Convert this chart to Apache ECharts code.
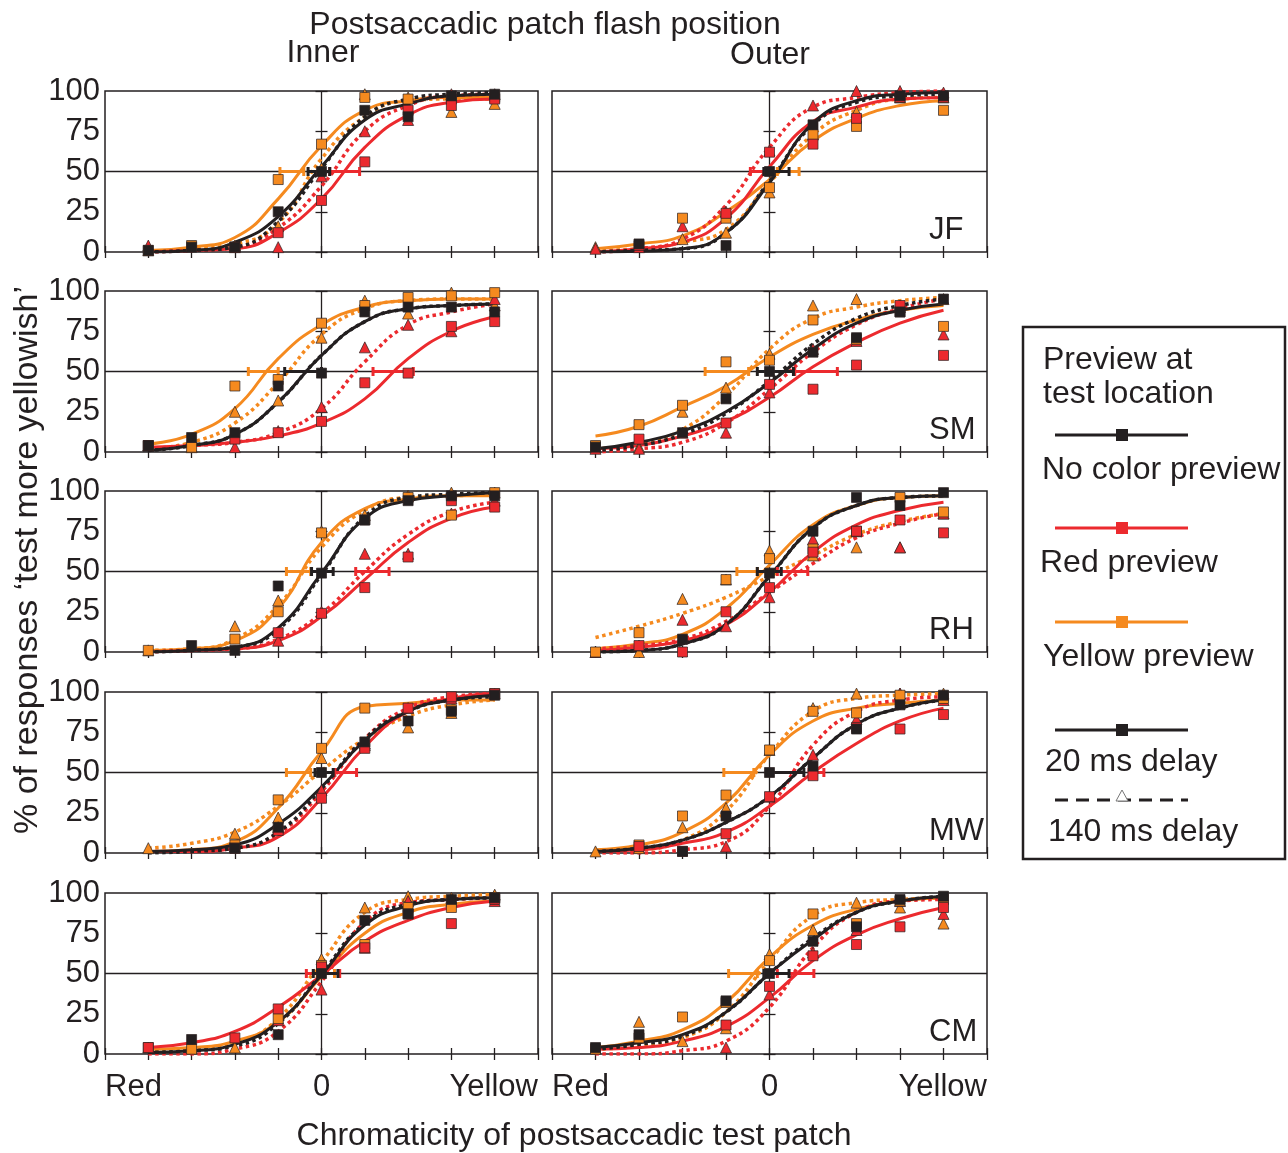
<!DOCTYPE html>
<html>
<head>
<meta charset="utf-8">
<script src="https://cdn.jsdelivr.net/npm/echarts@6/dist/echarts.min.js"></script>
<style>
html, body { margin: 0; padding: 0; background: #fff; }
#chart { width: 1288px; height: 1153px; }
</style>
</head>
<body>
<div id="chart"></div>
<script>
// test chromaticity levels (Red ... 0 ... Yellow)
const levels = [-4, -3, -2, -1, 0, 1, 2, 3, 4];
const subjects = ['JF', 'SM', 'RH', 'MW', 'CM'];
const sides = ['Inner', 'Outer'];

// panel order: JF in, JF out, SM in, SM out, RH in, RH out, MW in, MW out, CM in, CM out
// fitted curves, % yellowish read at each level
const fitNone20 = [
  [0, 1, 6, 22, 53, 82, 92, 97, 98],
  [0, 0.5, 2, 12, 43, 80, 94, 98, 99],
  [1, 4, 11, 31, 60, 81, 89, 91, 92],
  [2, 6, 13, 25, 43, 64, 80, 88, 92],
  [0, 1, 3, 15, 49, 83, 94, 97, 99],
  [0, 1, 5, 17, 47, 77, 91, 96, 97],
  [1, 2, 5, 18, 41, 70, 88, 95, 98],
  [1, 3, 8, 19, 35, 59, 80, 90, 95],
  [1, 2, 6, 20, 49, 80, 92, 96, 97],
  [4, 7, 12, 26, 50, 71, 88, 95, 98]
];
const fitNone140 = [
  [0, 1, 3, 19, 52, 84, 95, 98, 99],
  [0, 1, 2, 12, 44, 79, 93, 97, 98],
  [1, 4, 11, 31, 60, 81, 89, 91, 92],
  [1, 4, 11, 24, 44, 67, 83, 91, 95],
  [0, 1, 3, 14, 48, 84, 96, 98, 99],
  [0, 1, 5, 17, 47, 77, 91, 96, 97],
  [0, 1, 3, 13, 40, 71, 88, 95, 97],
  [1, 3, 8, 19, 35, 59, 80, 90, 95],
  [1, 2, 5, 19, 50, 81, 93, 96, 97],
  [3, 6, 11, 26, 50, 72, 88, 95, 98]
];
const fitRed20 = [
  [0, 1, 2, 12, 33, 65, 85, 93, 95],
  [0, 2, 6, 21, 53, 81, 90, 95, 96],
  [3, 4, 6, 10, 18, 33, 58, 75, 84],
  [2, 4, 10, 19, 34, 53, 68, 80, 88],
  [0, 1, 2, 7, 22, 45, 68, 83, 90],
  [1, 3, 7, 17, 37, 62, 79, 88, 93],
  [1, 1, 3, 10, 34, 66, 88, 96, 99],
  [1, 2, 6, 13, 29, 50, 68, 82, 90],
  [4, 7, 14, 29, 49, 70, 83, 91, 95],
  [3, 4, 8, 17, 35, 58, 74, 84, 91]
];
const fitRed140 = [
  [0, 1, 3, 15, 41, 75, 91, 97, 98],
  [0, 2, 8, 29, 65, 90, 96, 99, 100],
  [2, 4, 6, 12, 27, 56, 79, 87, 92],
  [0, 2, 6, 18, 39, 62, 79, 89, 95],
  [0, 1, 2, 8, 24, 50, 73, 87, 93],
  [2, 4, 8, 19, 37, 55, 71, 80, 86],
  [1, 1, 3, 12, 38, 71, 90, 97, 99],
  [0, 0, 2, 7, 29, 67, 88, 95, 97],
  [0, 0, 3, 14, 45, 82, 94, 96, 97],
  [0, 0, 2, 8, 29, 66, 88, 95, 96]
];
const fitYellow20 = [
  [1, 3, 9, 33, 66, 88, 94, 96, 96],
  [2, 5, 10, 25, 45, 69, 83, 91, 94],
  [5, 11, 27, 58, 79, 90, 94, 95, 95],
  [10, 16, 28, 41, 59, 73, 82, 88, 91],
  [1, 2, 7, 27, 68, 89, 95, 97, 97],
  [2, 5, 11, 27, 54, 79, 91, 96, 97],
  [1, 2, 7, 28, 63, 91, 93, 95, 95],
  [2, 5, 13, 31, 61, 82, 90, 93, 95],
  [3, 4, 8, 20, 48, 75, 88, 93, 95],
  [4, 8, 15, 32, 60, 80, 90, 95, 97]
];
const fitYellow140 = [
  [0, 2, 5, 18, 58, 84, 94, 95, 95],
  [1, 2, 6, 14, 43, 73, 88, 95, 96],
  [2, 6, 18, 43, 73, 89, 94, 95, 95],
  [2, 5, 14, 35, 64, 83, 90, 94, 96],
  [1, 2, 8, 29, 65, 88, 96, 97, 98],
  [9, 16, 24, 34, 47, 60, 73, 81, 86],
  [3, 6, 13, 29, 51, 71, 85, 92, 95],
  [1, 2, 8, 26, 61, 88, 96, 98, 99],
  [2, 3, 7, 22, 57, 88, 96, 98, 99],
  [3, 5, 10, 26, 58, 86, 94, 96, 97]
];

// measured points: squares = 20 ms delay, triangles = 140 ms delay (null = hidden)
const ptsNone20 = [
  [1, 3, 3, 25, 50, 88, 84, 97, 98],
  [null, 5, null, 4, 50, 79, null, 97, 97],
  [4, 9, 12, 41, 49, 87, 90, 90, 87],
  [3, null, 12, 33, 50, 62, 71, 87, 95],
  [null, 4, 1, 41, 49, 82, 94, 97, 97],
  [null, null, 8, null, 49, 75, 96, 91, 99],
  [null, null, 3, 16, 50, 69, 82, 88, 98],
  [null, null, 1, 23, 50, 54, 77, 92, 98],
  [null, 9, null, 12, 50, 83, 87, 96, 97],
  [4, 12, null, 33, 50, 70, 79, 96, 98]
];
const ptsRed20 = [
  [null, null, 3, 12, 32, 56, 88, 91, 95],
  [null, 4, null, 24, 62, 67, 83, 96, 96],
  [4, null, 8, 12, 19, 43, 49, 78, 81],
  [null, 8, null, 18, 42, 39, 54, 91, 60],
  [null, null, null, 12, 24, 40, 59, 94, 90],
  [null, 4, 0, 25, 40, 62, 75, 82, 74],
  [null, null, 3, 14, 34, 65, 90, 97, 99],
  [null, 4, 1, 12, 35, 48, 78, 77, 86],
  [4, null, 10, 28, 54, 66, 87, 81, 96],
  [null, null, null, 18, 42, 61, 68, 79, 91]
];
const ptsRed140 = [
  [4, null, 3, 3, 47, 75, 82, 98, 98],
  [2, 3, 16, 25, 63, 91, 100, 100, 99],
  [4, 8, 3, 13, 28, 65, 79, 75, 95],
  [2, 2, 12, 12, 37, 64, 69, 91, 73],
  [null, null, null, 7, 25, 61, 61, 86, 94],
  [0, 4, 20, 16, 34, 70, 75, 65, 86],
  [null, null, 4, 16, 39, 68, 90, 96, 99],
  [null, null, null, 4, 35, 61, 83, 99, 95],
  [null, null, null, 21, 40, 66, 95, 95, 95],
  [null, null, null, 4, 37, 63, 77, 95, 87]
];
const ptsYellow20 = [
  [1, 4, 3, 45, 67, 96, 95, 95, 96],
  [null, null, 21, 21, 40, 73, 78, 96, 88],
  [4, 3, 41, 45, 80, 91, 96, 97, 99],
  [4, 17, 29, 56, 57, 82, 70, 87, 78],
  [1, null, 8, 25, 74, 82, 96, 85, 99],
  [0, 12, null, 45, 58, 64, 75, 96, 87],
  [null, null, 5, 33, 65, 90, null, 89, 99],
  [null, 5, 23, 36, 64, 88, 87, 98, 96],
  [4, 3, null, 22, 55, 68, 91, 91, 97],
  [3, 10, 23, 32, 58, 87, 81, 95, 96]
];
const ptsYellow140 = [
  [1, null, 4, 16, 52, 98, 96, 87, 92],
  [3, null, 8, 12, 37, 73, 87, 96, 96],
  [4, 3, 25, 32, 71, 94, 86, 99, 91],
  [3, 3, 25, 40, 61, 91, 95, 90, 95],
  [1, null, 16, 32, 75, 85, 97, 99, 99],
  [0, 0, 33, 45, 63, 60, 65, 65, 86],
  [3, null, 12, 22, 59, 67, 78, 87, null],
  [1, 3, 16, 28, 64, 90, 99, 99, 99],
  [4, 4, 4, 22, 59, 91, 98, 97, 99],
  [null, 20, 8, 16, 62, 77, 94, 91, 81]
];

// horizontal error bars at 50 %: [low, high]
const errNone = [[-0.31, 0.19], [-0.13, 0.45], [-0.85, 0], [-0.28, 0.55], [-0.23, 0.27],
  [-0.28, 0.27], [-0.15, 0.27], [0, 0.79], [-0.19, 0.38], [-0.13, 0.45]];
const errRed = [[0.19, 0.88], [-0.44, 0.02], [1.19, 2.12], [0.58, 1.56], [0.79, 1.56],
  [0.18, 0.88], [0.31, 0.81], [0.91, 1.25], [-0.35, 0.42], [0.18, 1.02]];
const errYellow = [[-0.96, -0.41], [0.18, 0.68], [-1.69, -1.0], [-1.48, -0.48], [-0.81, -0.25],
  [-0.75, -0.28], [-0.81, -0.25], [-1.05, -0.36], [-0.1, 0.3], [-0.94, -0.28]];

const ink = '#231f20';
const red = '#ec2a2e';
const orange = '#f58a1f';
const font = '"Liberation Sans", Arial, Helvetica, sans-serif';

const colLeft = [105, 552];
const colWidth = [433, 435];
const rowTop = [91, 291, 491, 692, 893];
const rowHeight = 161;

const chart = echarts.init(document.getElementById('chart'), null, {renderer: 'canvas'});

function pairs (vals) {
  return levels.map((x, i) => [x, vals[i]]).filter(d => d[1] != null);
}

const grids = [];
const xAxes = [];
const yAxes = [];
const series = [];
const graphics = [];

const tick = {show: true, inside: true, length: 6, lineStyle: {color: ink, width: 1.3}};

for (let r = 0; r < 5; r++) {
  for (let c = 0; c < 2; c++) {
    const p = r * 2 + c;
    grids.push({
      left: colLeft[c], top: rowTop[r], width: colWidth[c], height: rowHeight,
      show: true, borderColor: ink, borderWidth: 1.5, backgroundColor: 'transparent',
      outerBoundsMode: 'none', containLabel: false
    });
    const lastRow = r === 4;
    xAxes.push({
      gridIndex: p, type: 'value', position: 'bottom', min: -5, max: 5, interval: 1,
      axisLine: {show: false}, axisTick: tick, splitLine: {show: false},
      axisLabel: {
        show: lastRow, margin: 18, color: ink, fontSize: 31, fontFamily: font,
        showMinLabel: true, showMaxLabel: true,
        alignMinLabel: 'left', alignMaxLabel: 'right',
        formatter: v => v === -5 ? 'Red' : v === 0 ? '0' : v === 5 ? 'Yellow' : ''
      }
    });
    xAxes.push({
      gridIndex: p, type: 'value', position: 'top', min: -5, max: 5, interval: 1,
      axisLine: {show: false}, axisTick: tick, splitLine: {show: false},
      axisLabel: {show: false}
    });
    yAxes.push({
      gridIndex: p, type: 'value', position: 'left', min: 0, max: 100, interval: 25,
      axisLine: {show: false}, axisTick: tick, splitLine: {show: false},
      axisLabel: {show: c === 0, margin: 5, color: ink, fontSize: 31, fontFamily: font}
    });
    yAxes.push({
      gridIndex: p, type: 'value', position: 'right', min: 0, max: 100, interval: 25,
      axisLine: {show: false}, axisTick: tick, splitLine: {show: false},
      axisLabel: {show: false}
    });

    const ax = {xAxisIndex: p * 2, yAxisIndex: p * 2};

    // reference lines at 0 and 50 %
    series.push(Object.assign({
      type: 'line', data: [[0, 50]], showSymbol: false, lineStyle: {width: 0}, silent: true, z: 1,
      markLine: {
        silent: true, symbol: ['none', 'none'], label: {show: false}, animation: false, z: 1,
        lineStyle: {color: ink, width: 1.3, type: 'solid'},
        data: [{xAxis: 0}, {yAxis: 50}]
      }
    }, ax));

    const fits = [
      [fitYellow20, orange, false], [fitYellow140, orange, true],
      [fitRed20, red, false], [fitRed140, red, true],
      [fitNone20, ink, false], [fitNone140, ink, true]
    ];
    fits.forEach(([arr, col, dotted]) => {
      series.push(Object.assign({
        type: 'line', data: pairs(arr[p]), smooth: 0.5,
        showSymbol: false, symbol: 'none', silent: true, z: 2,
        lineStyle: dotted
          ? {color: col, width: 3.5, type: [3.5, 3.5], cap: 'butt'}
          : {color: col, width: 3}
      }, ax));
    });

    // error bars, drawn as filled rects through the axis scale
    [[errYellow, orange], [errRed, red], [errNone, ink]].forEach(([arr, col]) => {
      series.push(Object.assign({
        type: 'custom', silent: true, z: 3,
        data: [[arr[p][0], arr[p][1], 50]],
        encode: {x: [0, 1], y: 2},
        renderItem: (params, api) => {
          const a = api.coord([api.value(0), api.value(2)]);
          const b = api.coord([api.value(1), api.value(2)]);
          const th = 3;
          const cap = 4.5;
          return {
            type: 'group',
            children: [
              {type: 'rect', shape: {x: a[0], y: a[1] - th / 2, width: b[0] - a[0], height: th}, style: {fill: col}},
              {type: 'rect', shape: {x: a[0] - th / 2, y: a[1] - cap, width: th, height: cap * 2}, style: {fill: col}},
              {type: 'rect', shape: {x: b[0] - th / 2, y: b[1] - cap, width: th, height: cap * 2}, style: {fill: col}}
            ]
          };
        }
      }, ax));
    });

    // measured points
    const pts = [
      [ptsYellow140, orange, 'triangle', 11], [ptsRed140, red, 'triangle', 11],
      [ptsYellow20, orange, 'rect', 10], [ptsRed20, red, 'rect', 10], [ptsNone20, ink, 'rect', 10]
    ];
    pts.forEach(([arr, col, sym, size]) => {
      series.push(Object.assign({
        type: 'scatter', data: pairs(arr[p]), symbol: sym, symbolSize: size, silent: true, z: 4,
        itemStyle: {color: col, opacity: 1, borderColor: 'rgba(45,35,35,0.8)', borderWidth: 0.9}
      }, ax));
    });

    if (c === 1) {
      graphics.push({
        type: 'text', left: 929, top: rowTop[r] + 124,
        style: {text: subjects[r], font: '31px ' + font, fill: ink}
      });
    }
  }
}

// titles
const txt = (text, x, y, align, size, extra) => Object.assign({
  type: 'text', x: x, y: y,
  style: {text: text, font: (size || 32) + 'px ' + font, fill: ink, textAlign: align || 'left', textVerticalAlign: 'middle'}
}, extra || {});

graphics.push(txt('Postsaccadic patch flash position', 545, 25, 'center'));
graphics.push(txt(sides[0], 323, 53, 'center'));
graphics.push(txt(sides[1], 770, 55, 'center'));
graphics.push(txt('Chromaticity of postsaccadic test patch', 574, 1136, 'center'));
graphics.push(txt('% of responses \u2018test more yellowish\u2019', 28, 560, 'center', 34, {rotation: Math.PI / 2}));

// legend box
const lx1 = 1055;
const lx2 = 1188;
const lmid = 1122;
graphics.push({type: 'rect', shape: {x: 1023, y: 327, width: 262, height: 532}, style: {fill: 'none', stroke: ink, lineWidth: 2.5}});
graphics.push(txt('Preview at', 1043, 360));
graphics.push(txt('test location', 1043, 394));
[[ink, 435, 'No color preview', 1042, 470], [red, 528, 'Red preview', 1040, 563],
  [orange, 622, 'Yellow preview', 1043, 657], [ink, 730, '20 ms delay', 1045, 762]].forEach(([col, ly, label, tx, ty]) => {
  graphics.push({type: 'line', shape: {x1: lx1, y1: ly, x2: lx2, y2: ly}, style: {stroke: col, lineWidth: 3}});
  graphics.push({type: 'rect', shape: {x: lmid - 6, y: ly - 6, width: 12, height: 12}, style: {fill: col}});
  graphics.push(txt(label, tx, ty));
});
graphics.push({type: 'line', shape: {x1: lx1, y1: 800, x2: lx2, y2: 800}, style: {stroke: ink, lineWidth: 3, lineDash: [13, 8]}});
graphics.push({type: 'polygon', shape: {points: [[lmid, 790], [lmid - 6, 801], [lmid + 6, 801]]}, style: {fill: '#fff', stroke: '#777', lineWidth: 1}});
graphics.push(txt('140 ms delay', 1048, 832));

chart.setOption({
  animation: false,
  backgroundColor: '#fff',
  textStyle: {fontFamily: font},
  grid: grids,
  xAxis: xAxes,
  yAxis: yAxes,
  series: series,
  graphic: graphics
});
</script>
</body>
</html>
